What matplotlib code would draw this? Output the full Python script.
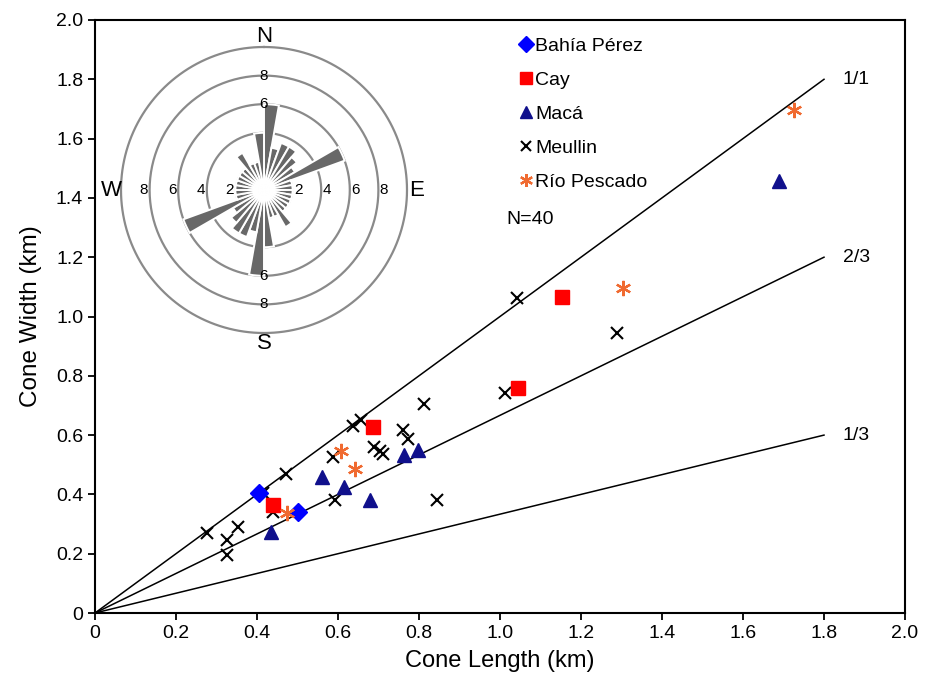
import numpy as np
import matplotlib
matplotlib.use('Agg')
import matplotlib.pyplot as plt

plt.rcParams['font.family'] = ['Liberation Sans', 'DejaVu Sans']

# scatter data (km)
bahia_x = [0.405, 0.50]
bahia_y = [0.405, 0.341]
cay_x = [0.44, 0.687, 1.044, 1.153]
cay_y = [0.364, 0.628, 0.759, 1.066]
maca_x = [0.435, 0.56, 0.616, 0.678, 0.762, 0.797, 1.689]
maca_y = [0.274, 0.459, 0.426, 0.382, 0.533, 0.55, 1.457]
meullin_x = [0.277, 0.325, 0.325, 0.354, 0.44, 0.416, 0.472, 0.593, 0.587, 0.638, 0.656,
             0.69, 0.703, 0.712, 0.76, 0.774, 0.812, 0.844, 1.042, 1.012, 1.289]
meullin_y = [0.271, 0.246, 0.196, 0.291, 0.342, 0.406, 0.469, 0.381, 0.527, 0.63, 0.652,
             0.56, 0.546, 0.537, 0.617, 0.586, 0.704, 0.381, 1.062, 0.742, 0.944]
rio_x = [0.475, 0.608, 0.643, 1.304, 1.726]
rio_y = [0.338, 0.548, 0.487, 1.096, 1.696]

# reference ratio lines
ratio_labels = ['1/1', '2/3', '1/3']
ratio_vals = [1.0, 2/3, 1/3]
line_xmax = 1.8

ticks = [0, 0.2, 0.4, 0.6, 0.8, 1.0, 1.2, 1.4, 1.6, 1.8, 2.0]
tick_labels = ['0', '0.2', '0.4', '0.6', '0.8', '1.0', '1.2', '1.4', '1.6', '1.8', '2.0']

# rose diagram (axial, 10 degree bins from 0 to 180)
rose_bins = np.arange(0, 180, 10)
rose_vals = [6, 3, 3.5, 3.5, 3, 2.5, 6, 2, 2, 2, 2, 2, 2, 2, 3, 2, 2, 4]
rose_rings = [2, 4, 6, 8, 10]

fig = plt.figure(figsize=(9.27, 6.82), dpi=100)
ax = fig.add_axes([95/927, 69/682, 810/927, 593/682])

for lab, r in zip(ratio_labels, ratio_vals):
    ax.plot([0, line_xmax], [0, line_xmax * r], color='black', lw=1.1, zorder=1)
    ax.text(line_xmax + 0.08, line_xmax * r, lab, fontsize=14, va='center', ha='center')

ax.plot(meullin_x, meullin_y, 'x', color='black', ms=9, mew=1.5, ls='none', label='Meullin', zorder=3)
ax.plot(bahia_x, bahia_y, 'D', color='#0000FF', ms=9, ls='none', label='Bahía Pérez', zorder=4)
ax.plot(cay_x, cay_y, 's', color='#FF0000', ms=9.5, ls='none', label='Cay', zorder=4)
ax.plot(maca_x, maca_y, '^', color='#10108C', ms=10.5, ls='none', label='Macá', zorder=4)
ax.plot(rio_x, rio_y, marker=(6, 2, 0), color='#F06A30', ms=11, mew=1.6, ls='none',
        label='Río Pescado', zorder=4)

handles, labels = ax.get_legend_handles_labels()
order = [1, 2, 3, 0, 4]
leg = ax.legend([handles[i] for i in order], [labels[i] for i in order],
                loc='upper left', bbox_to_anchor=(0.503, 0.997), frameon=False,
                fontsize=14, handlelength=0.8, handletextpad=0.1, labelspacing=0.84,
                markerscale=0.85, borderpad=0.3)
ax.text(0.508, 0.664, 'N=40', transform=ax.transAxes, fontsize=14, va='center')

ax.set_xlim(0, 2.0)
ax.set_ylim(0, 2.0)
ax.set_xticks(ticks)
ax.set_xticklabels(tick_labels)
ax.set_yticks(ticks)
ax.set_yticklabels(tick_labels)
ax.tick_params(direction='out', length=5, width=1.3, labelsize=14)
for s in ax.spines.values():
    s.set_linewidth(1.5)
ax.set_xlabel('Cone Length (km)', fontsize=17, labelpad=6)
ax.set_ylabel('Cone Width (km)', fontsize=17.5, labelpad=10)

# rose inset
u = 14.3
rmax = 10.6
cx, cy = 264, 190
half = rmax * u
rax = fig.add_axes([(cx - half)/927, (682 - cy - half)/682, 2*half/927, 2*half/682],
                   projection='polar')
rax.set_theta_zero_location('N')
rax.set_theta_direction(-1)
th = np.deg2rad(np.concatenate([rose_bins, rose_bins + 180]) + 5)
rv = np.concatenate([rose_vals, rose_vals])
rax.bar(th, rv, width=np.deg2rad(10), color='#686868', edgecolor='white', linewidth=1.4, zorder=3)
circ = np.linspace(0, 2*np.pi, 361)
for r in rose_rings:
    rax.plot(circ, np.full_like(circ, r), color='#8A8A8A' if r > 2 else '#B0B0B0',
             lw=1.6 if r > 2 else 0.8, zorder=2)
rax.set_ylim(0, rmax)
rax.grid(False)
rax.set_xticks([])
rax.set_yticks([])
rax.spines['polar'].set_visible(False)
rax.patch.set_alpha(0)
for d, lab in zip([0, 90, 180, 270], ['N', 'E', 'S', 'W']):
    rax.text(np.deg2rad(d), 10.7, lab, fontsize=16, ha='center', va='center')
for v in [2, 4, 6, 8]:
    for d in [90, 270]:
        rax.text(np.deg2rad(d), v + 0.4, str(v), fontsize=11, ha='center', va='center', zorder=5)
for v in [6, 8]:
    for d in [0, 180]:
        rax.text(np.deg2rad(d), v, str(v), fontsize=11, ha='center', va='center', zorder=5)

fig.savefig('out.png', dpi=100)
